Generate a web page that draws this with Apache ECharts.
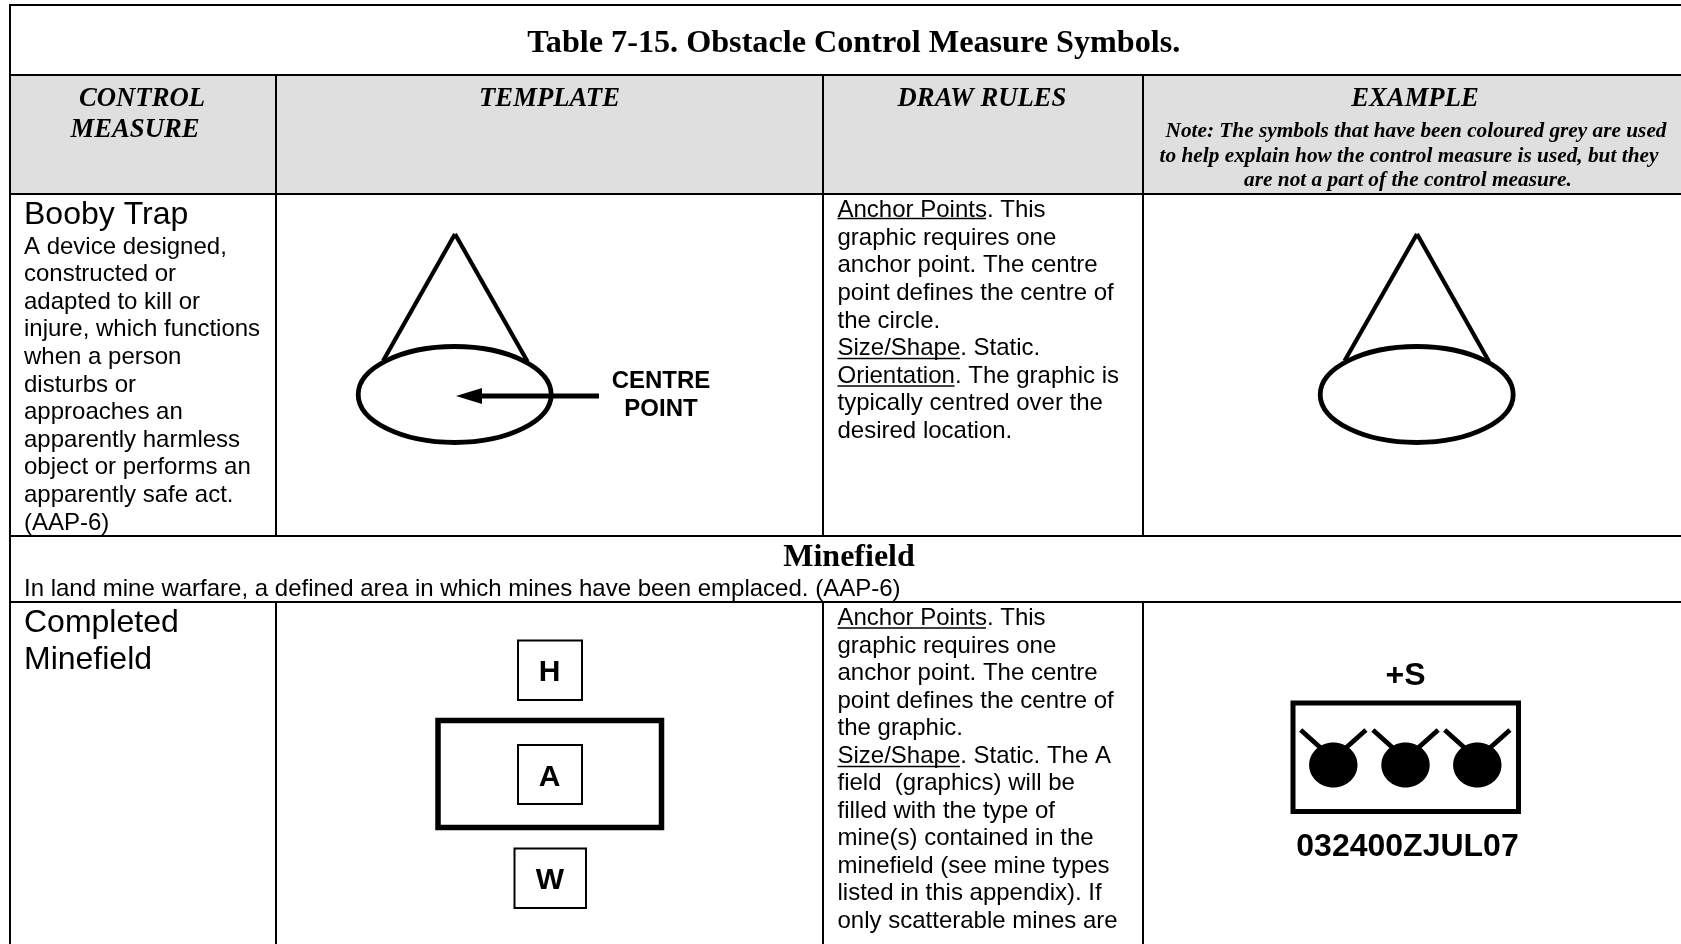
<!DOCTYPE html>
<html><head><meta charset="utf-8">
<style>html,body{margin:0;padding:0;background:#fff}#c{width:1681px;height:944px}</style>
<script src="https://cdn.jsdelivr.net/npm/echarts@6/dist/echarts.min.js"></script>
</head><body><div id="c"></div>
<script>
// ---- content ----
const tableTitle = 'Table 7-15. Obstacle Control Measure Symbols.';
const controlHeader = ['CONTROL', 'MEASURE'];
const templateHeader = 'TEMPLATE';
const drawRulesHeader = 'DRAW RULES';
const exampleHeader = 'EXAMPLE';
const exampleNote = [
  'Note: The symbols that have been coloured grey are used',
  'to help explain how the control measure is used, but they',
  'are not a part of the control measure.'
];
const boobyTrapName = 'Booby Trap';
const boobyTrapText = ['A device designed,', 'constructed or', 'adapted to kill or', 'injure, which functions',
  'when a person', 'disturbs or', 'approaches an', 'apparently harmless', 'object or performs an',
  'apparently safe act.', '(AAP-6)'];
const boobyTrapRules = ['Anchor Points. This', 'graphic requires one', 'anchor point. The centre',
  'point defines the centre of', 'the circle.', 'Size/Shape. Static.', 'Orientation. The graphic is',
  'typically centred over the', 'desired location.'];
const centreLabel = ['CENTRE', 'POINT'];
const minefieldHeading = 'Minefield';
const minefieldText = 'In land mine warfare, a defined area in which mines have been emplaced. (AAP-6)';
const completedName = ['Completed', 'Minefield'];
const minefieldRules = ['Anchor Points. This', 'graphic requires one', 'anchor point. The centre',
  'point defines the centre of', 'the graphic.', 'Size/Shape. Static. The A', 'field  (graphics) will be',
  'filled with the type of', 'mine(s) contained in the', 'minefield (see mine types',
  'listed in this appendix). If', 'only scatterable mines are'];
const templateFields = ['H', 'A', 'W'];
const exampleTop = '+S';
const exampleDtg = '032400ZJUL07';

// ---- drawing through a hidden page-sized cartesian system ----
const SANS = '"Liberation Sans", Arial, sans-serif';
const SERIF = '"Liberation Serif", "Times New Roman", serif';
const INK = '#000';

function render(build) {
  return function (params, api) {
    const P = (x, y) => api.coord([x, y]);
    const children = [];
    const line = (x1, y1, x2, y2, w) => {
      const a = P(x1, y1), b = P(x2, y2);
      children.push({ type: 'line', shape: { x1: a[0], y1: a[1], x2: b[0], y2: b[1] },
        style: { stroke: INK, lineWidth: w, fill: null } });
    };
    const rect = (x1, y1, x2, y2, w, fill) => {
      const a = P(x1, y1), b = P(x2, y2);
      children.push({ type: 'rect', shape: { x: a[0], y: a[1], width: b[0] - a[0], height: b[1] - a[1] },
        style: { stroke: w ? INK : null, lineWidth: w || 0, fill: fill || null } });
    };
    const ell = (cx, cy, rx, ry, w, fill) => {
      const c = P(cx, cy);
      children.push({ type: 'ellipse', shape: { cx: c[0], cy: c[1], rx, ry },
        style: { stroke: w ? INK : null, lineWidth: w || 0, fill: fill || null } });
    };
    const poly = (pts) => {
      children.push({ type: 'polygon', shape: { points: pts.map(p => P(p[0], p[1])) }, style: { fill: INK } });
    };
    const text = (s, x, y, font, align) => {
      const c = P(x, y);
      children.push({ type: 'text', x: c[0], y: c[1],
        style: { text: s, font, fill: INK, align: align || 'left', verticalAlign: 'middle' } });
    };
    build({ line, rect, ell, poly, text });
    return { type: 'group', children };
  };
}

function drawGrid(g) {
  g.rect(9, 76, 1681, 193, 0, '#dfdfdf');
  const W = 2;
  [5, 75, 194, 536, 602].forEach(y => g.line(9, y, 1681, y, W));
  g.line(10, 4, 10, 944, W);
  [[75, 536], [602, 944]].forEach(s => {
    [276, 823, 1143].forEach(x => g.line(x, s[0], x, s[1], W));
  });
}

function drawText(g) {
  const HDR = 'italic bold 26.7px ' + SERIF;
  const NOTE = 'italic bold 21.3px ' + SERIF;
  const BODY = '24px ' + SANS;
  const BIG = '32px ' + SANS;
  g.text(tableTitle, 853.8, 44, 'bold 32.2px ' + SERIF, 'center');
  g.text(controlHeader[0], 142, 99, HDR, 'center');
  g.text(controlHeader[1], 135, 130, HDR, 'center');
  g.text(templateHeader, 549.5, 99, HDR, 'center');
  g.text(drawRulesHeader, 982, 99, HDR, 'center');
  g.text(exampleHeader, 1415, 99, HDR, 'center');
  [[1416, 131], [1409, 156], [1408, 180]].forEach((p, i) => g.text(exampleNote[i], p[0], p[1], NOTE, 'center'));

  g.text(boobyTrapName, 24, 215, BIG);
  boobyTrapText.forEach((s, i) => g.text(s, 24, 247 + i * 27.6, BODY));
  boobyTrapRules.forEach((s, i) => g.text(s, 837.5, 210.5 + i * 27.6, BODY));
  g.line(837.5, 218.5, 986, 218.5, 1.5);
  g.line(837.5, 358.5, 960, 358.5, 1.5);
  g.line(837.5, 386, 954.5, 386, 1.5);

  g.text(minefieldHeading, 849, 557.5, 'bold 32px ' + SERIF, 'center');
  g.text(minefieldText, 24, 589, BODY);
  g.text(completedName[0], 24, 623, BIG);
  g.text(completedName[1], 24, 660, BIG);
  minefieldRules.forEach((s, i) => g.text(s, 837.5, 618.5 + i * 27.5, BODY));
  g.line(837.5, 628, 986, 628, 1.5);
  g.line(837.5, 766.5, 960, 766.5, 1.5);

  g.text(centreLabel[0], 661, 381, 'bold 24px ' + SANS, 'center');
  g.text(centreLabel[1], 661, 409.5, 'bold 24px ' + SANS, 'center');
  g.text(templateFields[0], 549.5, 673, 'bold 30px ' + SANS, 'center');
  g.text(templateFields[1], 549.5, 778, 'bold 30px ' + SANS, 'center');
  g.text(templateFields[2], 550, 881, 'bold 30px ' + SANS, 'center');
  g.text(exampleTop, 1405.5, 676, 'bold 32px ' + SANS, 'center');
  g.text(exampleDtg, 1407.5, 847, 'bold 32px ' + SANS, 'center');
}

function drawSymbols(g) {
  // booby trap template and example
  [[454.7, 383, 527.5], [1416.7, 1344.5, 1489]].forEach(s => {
    g.ell(s[0], 394.5, 96.5, 48, 4.8);
    g.line(s[1], 361, s[0] + 0.3, 234, 4.2);
    g.line(s[2], 361.5, s[0] + 0.3, 234, 4.2);
  });
  // centre point arrow
  g.line(478, 396, 599, 396, 5.2);
  g.poly([[456, 396], [482, 388], [482, 404]]);
  // minefield template
  g.rect(438, 720.5, 661.5, 827.5, 5.5);
  g.rect(518, 640.5, 582, 700, 2);
  g.rect(518, 745, 582, 804, 2);
  g.rect(514.5, 848.5, 586, 908, 2);
  // minefield example
  g.rect(1293, 703, 1518.5, 811.5, 5);
  [1333.3, 1405.5, 1477.3].forEach(x => {
    g.ell(x, 765, 24.2, 22.5, 0, INK);
    g.line(x - 32.6, 730, x - 12.5, 748, 4.8);
    g.line(x + 32.6, 730, x + 12.5, 748, 4.8);
  });
}

const layer = (name, build) => ({
  type: 'custom', name, coordinateSystem: 'cartesian2d', silent: true, clip: false,
  data: [[0, 0]], renderItem: render(build)
});

const chart = echarts.init(document.getElementById('c'), null, { renderer: 'canvas' });
chart.setOption({
  animation: false,
  backgroundColor: '#fff',
  tooltip: { show: false },
  grid: { left: 0, right: 0, top: 0, bottom: 0, containLabel: false },
  xAxis: { type: 'value', min: 0, max: 1681, show: false },
  yAxis: { type: 'value', min: 0, max: 944, inverse: true, show: false },
  series: [layer('grid', drawGrid), layer('symbols', drawSymbols), layer('text', drawText)]
});
</script></body></html>
